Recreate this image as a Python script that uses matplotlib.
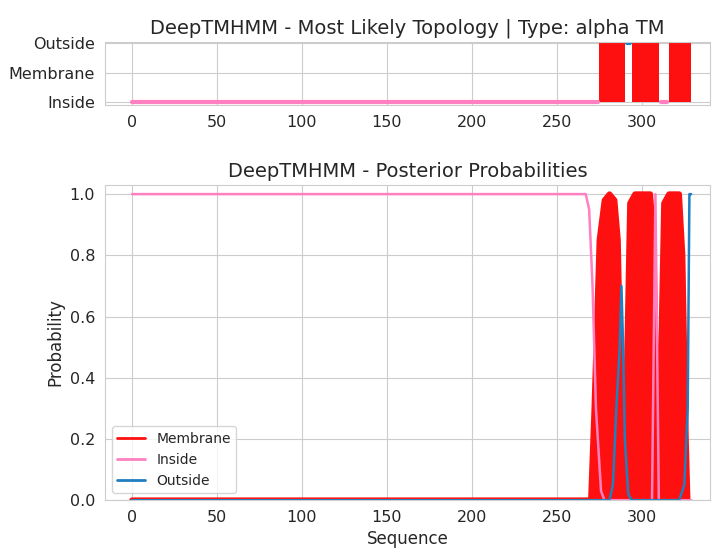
import matplotlib.pyplot as plt
import seaborn as sns

sns.set_style("whitegrid")

# most likely topology: 0 = Inside, 1 = Membrane, 2 = Outside
topo_start = [0, 275, 291, 294, 311, 316]
topo_end = [274, 290, 293, 310, 315, 329]
topo_state = [0, 1, 2, 1, 0, 1]

# posterior probabilities, read at key positions
memb_x = [0, 270, 272, 275, 278, 281, 284, 286, 288, 289, 290, 291, 293, 296, 305, 307, 309, 310, 311, 313, 316, 322, 324, 326, 327]
memb_y = [0, 0, 0.3, 0.85, 0.98, 1.0, 0.98, 0.85, 0.3, 0.05, 0.05, 0.4, 0.97, 1.0, 1.0, 0.85, 0.2, 0.05, 0.4, 0.97, 1.0, 1.0, 0.8, 0.2, 0.0]
ins_x = [0, 267, 269, 271, 273, 276, 278, 306, 307, 308, 309, 310, 329]
ins_y = [1, 1, 0.95, 0.7, 0.3, 0.03, 0, 0, 0.5, 1.0, 0.5, 0, 0]
out_x = [0, 281, 283, 285, 287, 288, 289, 290, 292, 294, 322, 325, 327, 328, 329]
out_y = [0, 0, 0.05, 0.3, 0.5, 0.7, 0.5, 0.2, 0.02, 0, 0, 0.05, 0.3, 1.0, 1.0]

red = "#ff1010"
pink = "#ff80c0"
blue = "#1f7fbf"

fig = plt.figure(figsize=(7.28, 5.57), dpi=100)
ax1 = fig.add_axes([0.144, 0.811, 0.831, 0.114])
ax2 = fig.add_axes([0.144, 0.102, 0.831, 0.566])

for s, e, st in zip(topo_start, topo_end, topo_state):
    if st == 1:
        ax1.fill_between([s, e], 0, 2, color=red, lw=0)
    elif st == 0:
        ax1.plot([s, e], [0, 0], color=pink, lw=3)
    else:
        ax1.plot([s, e], [2, 2], color=blue, lw=3)
ax1.set_yticks([0, 1, 2])
ax1.set_yticklabels(["Inside", "Membrane", "Outside"])
ax1.set_ylim(-0.1, 2.05)
ax1.set_xlim(-16, 340)
ax1.set_xticks(range(0, 301, 50))
ax1.set_title("DeepTMHMM - Most Likely Topology | Type: alpha TM", fontsize=14)
ax1.tick_params(labelsize=11.5)

ax2.fill_between(memb_x, 0, memb_y, color=red, lw=0)
ax2.plot(memb_x, memb_y, color=red, lw=4, label="Membrane")
ax2.plot(ins_x, ins_y, color=pink, lw=1.8, label="Inside")
ax2.plot(out_x, out_y, color=blue, lw=1.8, label="Outside")
ax2.set_ylim(0, 1.03)
ax2.set_xlim(-16, 340)
ax2.set_xticks(range(0, 301, 50))
ax2.set_xlabel("Sequence", fontsize=12)
ax2.set_ylabel("Probability", fontsize=12)
ax2.set_title("DeepTMHMM - Posterior Probabilities", fontsize=14)
ax2.tick_params(labelsize=11.5)
leg = ax2.legend(loc="lower left", fontsize=10, frameon=True)
for line in leg.get_lines():
    line.set_linewidth(2)

fig.savefig("out.png", dpi=100)
